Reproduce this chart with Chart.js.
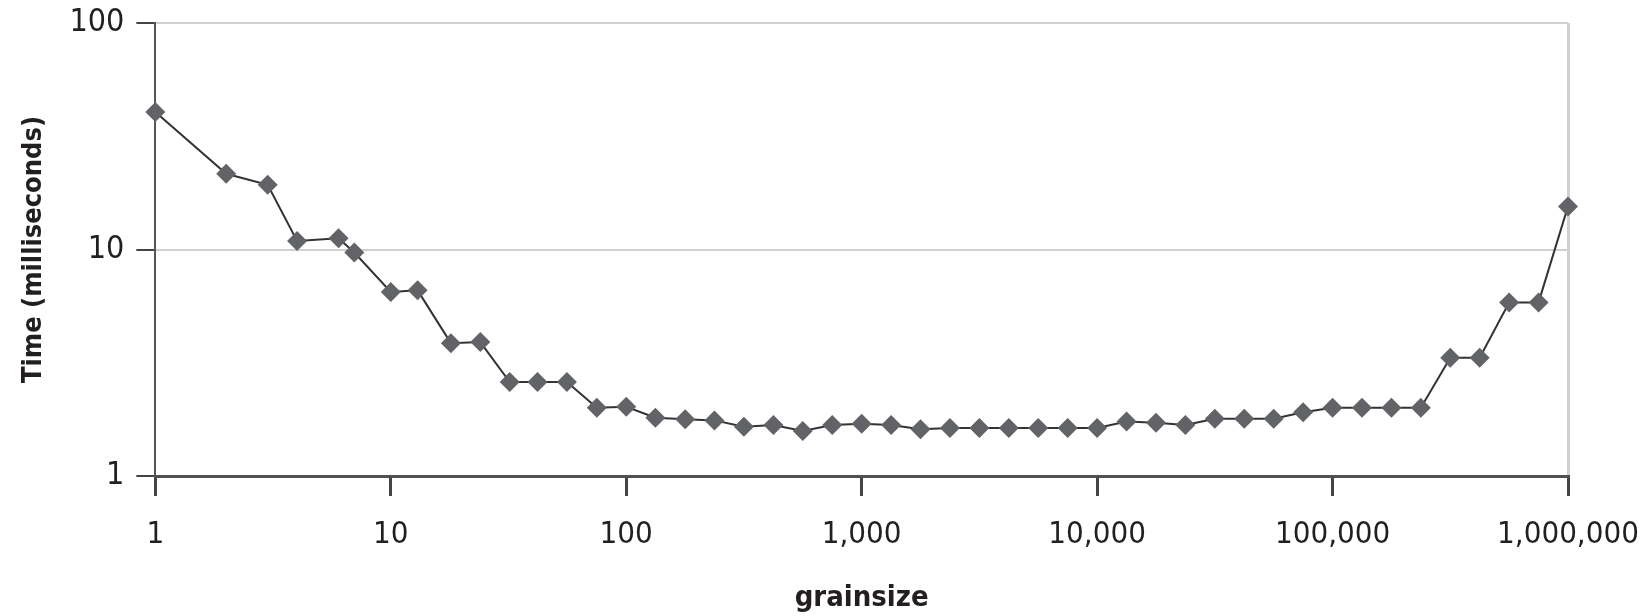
<!DOCTYPE html>
<html>
<head>
<meta charset="utf-8">
<script src="https://cdn.jsdelivr.net/npm/chart.js@4.4.1/dist/chart.umd.min.js"></script>
<style>
  html, body { margin: 0; padding: 0; background: #fff; }
</style>
</head>
<body>
<canvas id="grain" width="1642" height="616"></canvas>
<script>
// grainsize (x) vs time in ms (y)
const grainsizes = [1, 2, 3, 4, 6, 7, 10, 13, 18, 24, 32, 42, 56, 75, 100,
  133, 178, 237, 316, 422, 562, 750, 1000, 1334, 1778, 2371, 3162, 4217, 5623, 7499, 10000,
  13335, 17783, 23714, 31623, 42170, 56234, 74989, 100000,
  133352, 177828, 237137, 316228, 421697, 562341, 749894, 1000000];
const times = [40.5, 21.6, 19.3, 10.9, 11.2, 9.7, 6.5, 6.6, 3.86, 3.9, 2.6, 2.6, 2.6, 2.0, 2.02,
  1.81, 1.78, 1.76, 1.65, 1.68, 1.58, 1.68, 1.70, 1.68, 1.61, 1.63, 1.63, 1.63, 1.63, 1.63, 1.63,
  1.74, 1.72, 1.68, 1.79, 1.79, 1.79, 1.91, 2.0,
  2.0, 2.0, 2.0, 3.33, 3.33, 5.84, 5.84, 15.5];
const xTicks = [1, 10, 100, 1000, 10000, 100000, 1000000];
const yTicks = [1, 10, 100];

const FONT = "'Liberation Sans Narrow', 'DejaVu Sans Condensed', 'Roboto Condensed', 'Liberation Sans', sans-serif";

const points = grainsizes.map((g, i) => ({x: g, y: times[i]}));

const config = {
  type: 'line',
  data: {
    datasets: [{
      label: 'Time',
      data: points,
      borderColor: '#333333',
      borderWidth: 2,
      backgroundColor: '#626367',
      pointStyle: 'rectRot',
      pointRadius: 10,
      pointBorderWidth: 0,
      pointBackgroundColor: '#626367',
      tension: 0,
      clip: false
    }]
  },
  options: {
    responsive: false,
    animation: false,
    layout: {padding: {top: 0, right: 0, left: 18, bottom: 0}},
    plugins: {
      legend: {display: false},
      tooltip: {enabled: false}
    },
    scales: {
      x: {
        type: 'logarithmic',
        min: 1,
        max: 1000000,
        afterBuildTicks: (s) => { s.ticks = xTicks.map(v => ({value: v, major: true})); },
        // pin the plot edges to where the original has them
        afterFit: (s) => { s.paddingRight = 74; s.height = 140; },
        ticks: {
          autoSkip: false,
          maxRotation: 0,
          padding: 20,
          color: '#231f20',
          font: {family: FONT, size: 31},
          callback: (v) => Number(v).toLocaleString('en-US')
        },
        grid: {
          color: (ctx) => (ctx.tick && ctx.tick.value === 1000000) ? '#d0d0d0' : 'rgba(0,0,0,0)',
          lineWidth: 3,
          tickColor: '#444444',
          tickLength: 20,
          tickWidth: 3
        },
        border: {color: '#505050', width: 3},
        title: {
          display: true,
          text: 'grainsize',
          color: '#231f20',
          font: {family: FONT, size: 29, weight: 'bold'},
          padding: {top: 10, bottom: 0}
        }
      },
      y: {
        type: 'logarithmic',
        min: 1,
        max: 100,
        afterBuildTicks: (s) => { s.ticks = yTicks.map(v => ({value: v, major: true})); },
        afterFit: (s) => { s.paddingTop = 23; },
        ticks: {
          autoSkip: false,
          padding: 12,
          color: '#231f20',
          font: {family: FONT, size: 32},
          callback: (v) => Number(v).toLocaleString('en-US')
        },
        grid: {
          color: (ctx) => (ctx.tick && ctx.tick.value === 1) ? 'rgba(0,0,0,0)' : '#d0d0d0',
          lineWidth: 2,
          tickColor: '#444444',
          tickLength: 19,
          tickWidth: 2
        },
        border: {color: '#555555', width: 2},
        title: {
          display: true,
          text: 'Time (milliseconds)',
          color: '#231f20',
          font: {family: FONT, size: 27, weight: 'bold'},
          padding: {top: 0, bottom: 7}
        }
      }
    }
  }
};

document.addEventListener('DOMContentLoaded', function () {
  const ctx = document.getElementById('grain').getContext('2d');
  new Chart(ctx, config);
});
</script>
</body>
</html>
